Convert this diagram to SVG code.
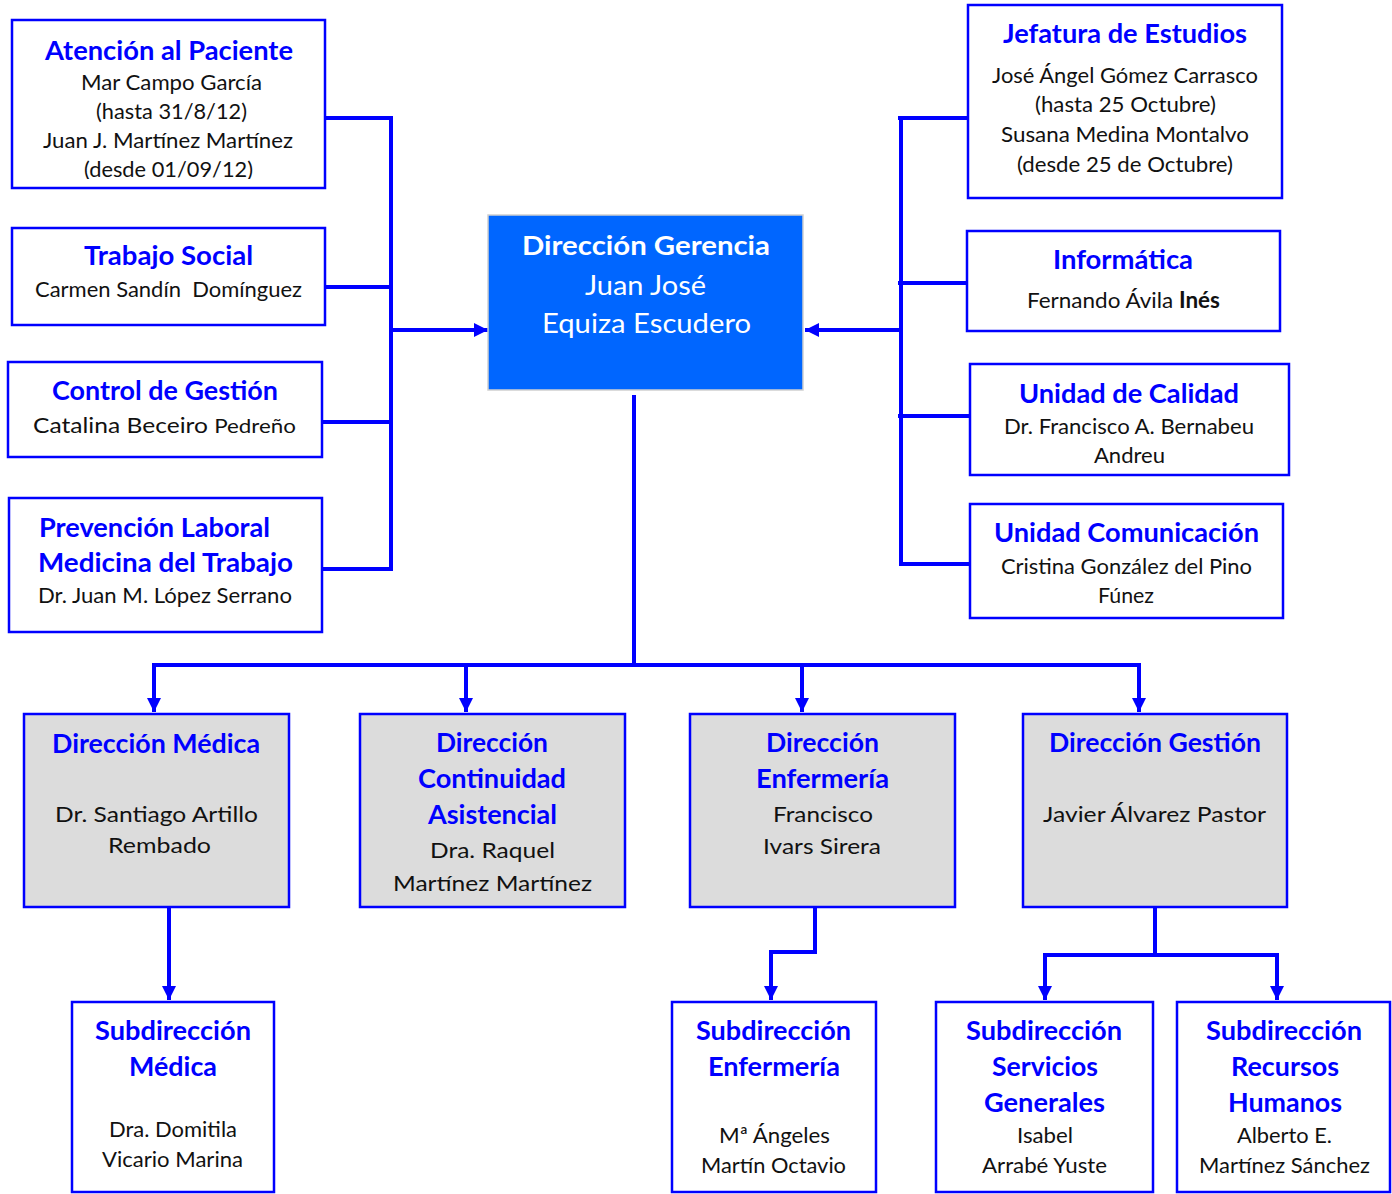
<svg xmlns="http://www.w3.org/2000/svg" width="1392" height="1194" viewBox="0 0 1392 1194">
<style>
.box{fill:#ffffff;stroke:#0000ff;stroke-width:2.5}
.gbox{fill:#dcdcdc;stroke:#0000ff;stroke-width:2.5}
.cbox{fill:#0066ff;stroke:#d0d0d0;stroke-width:1.5}
.t{font-family:Lato,"Liberation Sans",sans-serif;font-weight:bold;font-size:26px;fill:#0000ff}
.b{font-family:Lato,"Liberation Sans",sans-serif;font-size:22px;fill:#111111}
.w{font-family:Lato,"Liberation Sans",sans-serif;font-size:26px;fill:#ffffff}
.wb{font-family:Lato,"Liberation Sans",sans-serif;font-size:26px;font-weight:bold;fill:#ffffff}
.c{fill:none;stroke:#0000ff;stroke-width:4}
.a{fill:none;stroke:#0000ff;stroke-width:4;marker-end:url(#ah)}
</style>
<defs>
<marker id="ah" markerUnits="userSpaceOnUse" markerWidth="14" markerHeight="14" refX="14" refY="7" orient="auto">
<path d="M0,0 L14,7 L0,14 z" fill="#0000ff"/>
</marker>
<clipPath id="clipA"><rect x="12" y="20" width="313" height="159"/></clipPath>
</defs>
<g id="connectors">
<line class="c" x1="325" y1="118" x2="393" y2="118"/>
<line class="c" x1="325" y1="287" x2="393" y2="287"/>
<line class="c" x1="321" y1="422" x2="393" y2="422"/>
<line class="c" x1="320" y1="569" x2="393" y2="569"/>
<line class="c" x1="391" y1="116" x2="391" y2="571"/>
<line class="a" x1="393" y1="330" x2="488" y2="330"/>
<line class="c" x1="901" y1="116" x2="901" y2="566"/>
<line class="c" x1="898" y1="118" x2="968" y2="118"/>
<line class="c" x1="898" y1="283" x2="967" y2="283"/>
<line class="c" x1="898" y1="416" x2="970" y2="416"/>
<line class="c" x1="901" y1="564" x2="972" y2="564"/>
<line class="a" x1="899" y1="330" x2="805" y2="330"/>
<line class="c" x1="634" y1="395" x2="634" y2="667"/>
<line class="c" x1="152" y1="665" x2="1141" y2="665"/>
<line class="a" x1="154" y1="663" x2="154" y2="712"/>
<line class="a" x1="466" y1="665" x2="466" y2="712"/>
<line class="a" x1="802" y1="665" x2="802" y2="712"/>
<line class="a" x1="1139" y1="663" x2="1139" y2="712"/>
<line class="a" x1="169" y1="907" x2="169" y2="1000"/>
<polyline class="a" points="815,907 815,952 771,952 771,1000"/>
<line class="c" x1="1155" y1="907" x2="1155" y2="955"/>
<line class="c" x1="1043" y1="955" x2="1279" y2="955"/>
<line class="a" x1="1045" y1="953" x2="1045" y2="1000"/>
<line class="a" x1="1277" y1="953" x2="1277" y2="1000"/>
</g>
<g id="atencion">
<rect class="box" x="12" y="20" width="313" height="168"/>
<text class="t" x="45" y="60" textLength="248" lengthAdjust="spacingAndGlyphs">Atención al Paciente</text>
<text class="b" x="81" y="90" textLength="181" lengthAdjust="spacingAndGlyphs">Mar Campo García</text>
<text class="b" x="96" y="119" textLength="151" lengthAdjust="spacingAndGlyphs">(hasta 31/8/12)</text>
<text class="b" x="43" y="148" textLength="250" lengthAdjust="spacingAndGlyphs">Juan J. Martínez Martínez</text>
<text class="b" x="84" y="177" textLength="169" lengthAdjust="spacingAndGlyphs" clip-path="url(#clipA)">(desde 01/09/12)</text>
</g>
<g id="trabajo">
<rect class="box" x="12" y="228" width="313" height="97"/>
<text class="t" x="84" y="265" textLength="169" lengthAdjust="spacingAndGlyphs">Trabajo Social</text>
<text class="b" x="35" y="297" textLength="267" lengthAdjust="spacingAndGlyphs">Carmen Sandín&#160; Domínguez</text>
</g>
<g id="control">
<rect class="box" x="8" y="362" width="314" height="95"/>
<text class="t" x="52" y="400" textLength="226" lengthAdjust="spacingAndGlyphs">Control de Gestión</text>
<text class="b" x="33" y="433" textLength="263" lengthAdjust="spacingAndGlyphs">Catalina Beceiro <tspan font-size="20">Pedreño</tspan></text>
</g>
<g id="prevencion">
<rect class="box" x="9" y="498" width="313" height="134"/>
<text class="t" x="39" y="537" textLength="231" lengthAdjust="spacingAndGlyphs">Prevención Laboral</text>
<text class="t" x="38" y="572" textLength="255" lengthAdjust="spacingAndGlyphs">Medicina del Trabajo</text>
<text class="b" x="38" y="603" textLength="254" lengthAdjust="spacingAndGlyphs">Dr. Juan M. López Serrano</text>
</g>
<g id="gerencia">
<rect class="cbox" x="488" y="215" width="315" height="175"/>
<text class="wb" x="522" y="255" textLength="248" lengthAdjust="spacingAndGlyphs">Dirección Gerencia</text>
<text class="w" x="585" y="295" textLength="121" lengthAdjust="spacingAndGlyphs">Juan José</text>
<text class="w" x="542" y="333" textLength="209" lengthAdjust="spacingAndGlyphs">Equiza Escudero</text>
</g>
<g id="jefatura">
<rect class="box" x="968" y="5" width="314" height="193"/>
<text class="t" x="1003" y="43" textLength="244" lengthAdjust="spacingAndGlyphs">Jefatura de Estudios</text>
<text class="b" x="992" y="83" textLength="266" lengthAdjust="spacingAndGlyphs">José Ángel Gómez Carrasco</text>
<text class="b" x="1035" y="112" textLength="181" lengthAdjust="spacingAndGlyphs">(hasta 25 Octubre)</text>
<text class="b" x="1001" y="142" textLength="248" lengthAdjust="spacingAndGlyphs">Susana Medina Montalvo</text>
<text class="b" x="1017" y="172" textLength="216" lengthAdjust="spacingAndGlyphs">(desde 25 de Octubre)</text>
</g>
<g id="informatica">
<rect class="box" x="967" y="231" width="313" height="100"/>
<text class="t" x="1053" y="269" textLength="140" lengthAdjust="spacingAndGlyphs">Informática</text>
<text class="b" x="1027" y="308" textLength="193" lengthAdjust="spacingAndGlyphs">Fernando Ávila <tspan font-weight="bold">Inés</tspan></text>
</g>
<g id="calidad">
<rect class="box" x="970" y="364" width="319" height="111"/>
<text class="t" x="1019" y="403" textLength="220" lengthAdjust="spacingAndGlyphs">Unidad de Calidad</text>
<text class="b" x="1004" y="434" textLength="250" lengthAdjust="spacingAndGlyphs">Dr. Francisco A. Bernabeu</text>
<text class="b" x="1094" y="463" textLength="71" lengthAdjust="spacingAndGlyphs">Andreu</text>
</g>
<g id="comunicacion">
<rect class="box" x="970" y="504" width="313" height="114"/>
<text class="t" x="994" y="542" textLength="265" lengthAdjust="spacingAndGlyphs">Unidad Comunicación</text>
<text class="b" x="1001" y="574" textLength="251" lengthAdjust="spacingAndGlyphs">Cristina González del Pino</text>
<text class="b" x="1098" y="603" textLength="56" lengthAdjust="spacingAndGlyphs">Fúnez</text>
</g>
<g id="dmedica">
<rect class="gbox" x="24" y="714" width="265" height="193"/>
<text class="t" x="52" y="753" textLength="208" lengthAdjust="spacingAndGlyphs">Dirección Médica</text>
<text class="b" x="55" y="822" textLength="203" lengthAdjust="spacingAndGlyphs">Dr. Santiago Artillo</text>
<text class="b" x="108" y="853" textLength="103" lengthAdjust="spacingAndGlyphs">Rembado</text>
</g>
<g id="dcontinuidad">
<rect class="gbox" x="360" y="714" width="265" height="193"/>
<text class="t" x="436" y="752" textLength="112" lengthAdjust="spacingAndGlyphs">Dirección</text>
<text class="t" x="418" y="788" textLength="148" lengthAdjust="spacingAndGlyphs">Continuidad</text>
<text class="t" x="428" y="824" textLength="129" lengthAdjust="spacingAndGlyphs">Asistencial</text>
<text class="b" x="430" y="858" textLength="125" lengthAdjust="spacingAndGlyphs">Dra. Raquel</text>
<text class="b" x="393" y="891" textLength="199" lengthAdjust="spacingAndGlyphs">Martínez Martínez</text>
</g>
<g id="denfermeria">
<rect class="gbox" x="690" y="714" width="265" height="193"/>
<text class="t" x="766" y="752" textLength="113" lengthAdjust="spacingAndGlyphs">Dirección</text>
<text class="t" x="756" y="788" textLength="133" lengthAdjust="spacingAndGlyphs">Enfermería</text>
<text class="b" x="773" y="822" textLength="100" lengthAdjust="spacingAndGlyphs">Francisco</text>
<text class="b" x="763" y="854" textLength="118" lengthAdjust="spacingAndGlyphs">Ivars Sirera</text>
</g>
<g id="dgestion">
<rect class="gbox" x="1023" y="714" width="264" height="193"/>
<text class="t" x="1049" y="752" textLength="212" lengthAdjust="spacingAndGlyphs">Dirección Gestión</text>
<text class="b" x="1043" y="822" textLength="223" lengthAdjust="spacingAndGlyphs">Javier Álvarez Pastor</text>
</g>
<g id="smedica">
<rect class="box" x="72" y="1002" width="202" height="190"/>
<text class="t" x="95" y="1040" textLength="156" lengthAdjust="spacingAndGlyphs">Subdirección</text>
<text class="t" x="129" y="1076" textLength="88" lengthAdjust="spacingAndGlyphs">Médica</text>
<text class="b" x="109" y="1137" textLength="128" lengthAdjust="spacingAndGlyphs">Dra. Domitila</text>
<text class="b" x="102" y="1167" textLength="141" lengthAdjust="spacingAndGlyphs">Vicario Marina</text>
</g>
<g id="senfermeria">
<rect class="box" x="672" y="1002" width="204" height="190"/>
<text class="t" x="696" y="1040" textLength="155" lengthAdjust="spacingAndGlyphs">Subdirección</text>
<text class="t" x="708" y="1076" textLength="132" lengthAdjust="spacingAndGlyphs">Enfermería</text>
<text class="b" x="719" y="1143" textLength="111" lengthAdjust="spacingAndGlyphs">Mª Ángeles</text>
<text class="b" x="701" y="1173" textLength="145" lengthAdjust="spacingAndGlyphs">Martín Octavio</text>
</g>
<g id="sservicios">
<rect class="box" x="936" y="1002" width="217" height="190"/>
<text class="t" x="966" y="1040" textLength="156" lengthAdjust="spacingAndGlyphs">Subdirección</text>
<text class="t" x="992" y="1076" textLength="106" lengthAdjust="spacingAndGlyphs">Servicios</text>
<text class="t" x="984" y="1112" textLength="121" lengthAdjust="spacingAndGlyphs">Generales</text>
<text class="b" x="1017" y="1143" textLength="56" lengthAdjust="spacingAndGlyphs">Isabel</text>
<text class="b" x="982" y="1173" textLength="125" lengthAdjust="spacingAndGlyphs">Arrabé Yuste</text>
</g>
<g id="srecursos">
<rect class="box" x="1177" y="1002" width="213" height="190"/>
<text class="t" x="1206" y="1040" textLength="156" lengthAdjust="spacingAndGlyphs">Subdirección</text>
<text class="t" x="1231" y="1076" textLength="108" lengthAdjust="spacingAndGlyphs">Recursos</text>
<text class="t" x="1228" y="1112" textLength="114" lengthAdjust="spacingAndGlyphs">Humanos</text>
<text class="b" x="1237" y="1143" textLength="95" lengthAdjust="spacingAndGlyphs">Alberto E.</text>
<text class="b" x="1199" y="1173" textLength="171" lengthAdjust="spacingAndGlyphs">Martínez Sánchez</text>
</g>
</svg>
